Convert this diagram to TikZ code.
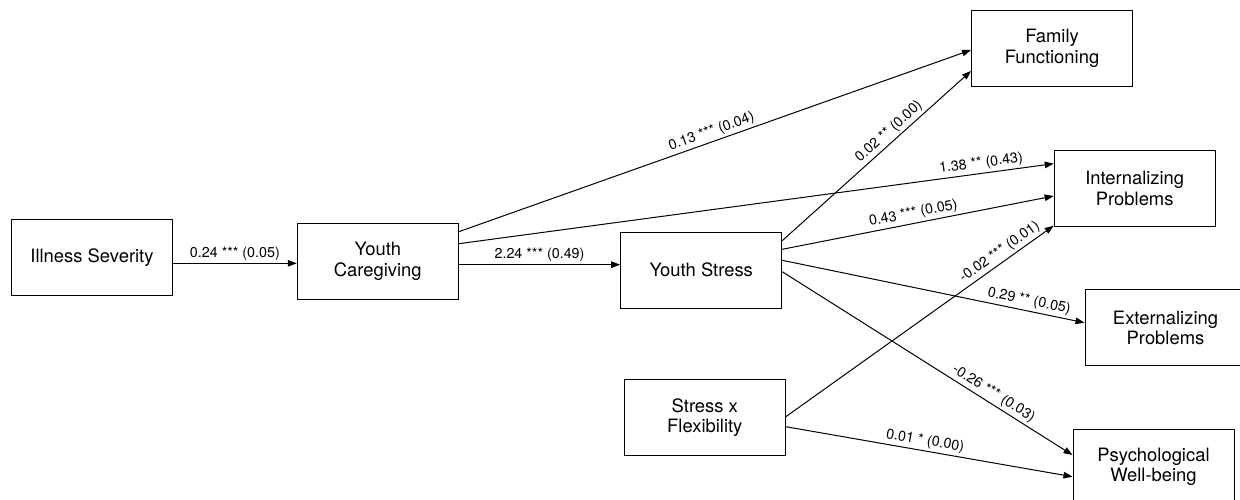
\documentclass[tikz,border=0pt]{standalone}
\usepackage{fontspec}
\setmainfont{TeX Gyre Heros}
\usetikzlibrary{arrows.meta}
\begin{document}
\begin{tikzpicture}[x=1pt,y=-1pt,
  box/.style={draw, line width=1pt, minimum width=161pt, minimum height=76pt, align=center, font=\fontsize{18.4}{20.5}\selectfont, inner sep=0pt},
  conn/.style={line width=1pt, -{Triangle[length=9pt,width=6.5pt]}},
  lbl/.style={font=\fontsize{14.3}{16}\selectfont, sloped, above, inner sep=2.5pt}]
\useasboundingbox (0,0) rectangle (1240,500);
\fill[white] (0,0) rectangle (1240,500);
\node[box] (is) at (92,257.3) {Illness Severity};
\node[box] (yc) at (377.8,261.2) {Youth\\Caregiving};
\node[box] (ys) at (701.2,270) {Youth Stress};
\node[box] (sf) at (704.8,417.8) {Stress x\\Flexibility};
\node[box] (ff) at (1052,48.5) {Family\\Functioning};
\node[box] (ip) at (1134.7,188.2) {Internalizing\\Problems};
\node[box] (ep) at (1165.5,327.7) {Externalizing\\Problems};
\node[box] (pw) at (1153.5,467) {Psychological\\Well-being};

\draw[conn] ([yshift=-6pt]is.east) -- node[lbl,pos=0.5] {0.24 *** (0.05)} ([yshift=-2.1pt]yc.west);
\draw[conn] ([yshift=-3.5pt]yc.east) -- node[lbl,pos=0.5] {2.24 *** (0.49)} ([yshift=5.3pt]ys.west);
\draw[conn] ([yshift=29.5pt]yc.east) -- node[lbl,pos=0.5] {0.13 *** (0.04)} ([yshift=-1.5pt]ff.west);
\draw[conn] ([yshift=17.5pt]yc.east) -- node[lbl,pos=0.88] {1.38 ** (0.43)} ([yshift=24.5pt]ip.west);
\draw[conn] ([yshift=29.3pt]ys.east) -- node[lbl,pos=0.6] {0.02 ** (0.00)} ([yshift=-22.5pt]ff.west);
\draw[conn] ([yshift=20.7pt]ys.east) -- node[lbl,pos=0.49] {0.43 *** (0.05)} ([yshift=-7.8pt]ip.west);
\draw[conn] ([yshift=1.1pt]sf.east) -- node[lbl,pos=0.82] {-0.02 *** (0.01)} ([yshift=-37.5pt]ip.west);
\draw[conn] ([yshift=9.7pt]ys.east) -- node[lbl,pos=0.81] {0.29 ** (0.05)} ([yshift=5pt]ep.west);
\draw[conn] ([yshift=-1.7pt]ys.east) -- node[lbl,pos=0.71] {-0.26 *** (0.03)} ([yshift=12pt]pw.west);
\draw[conn] ([yshift=-8.9pt]sf.east) -- node[lbl,pos=0.48] {0.01 * (0.00)} ([yshift=-9.7pt]pw.west);
\end{tikzpicture}
\end{document}
